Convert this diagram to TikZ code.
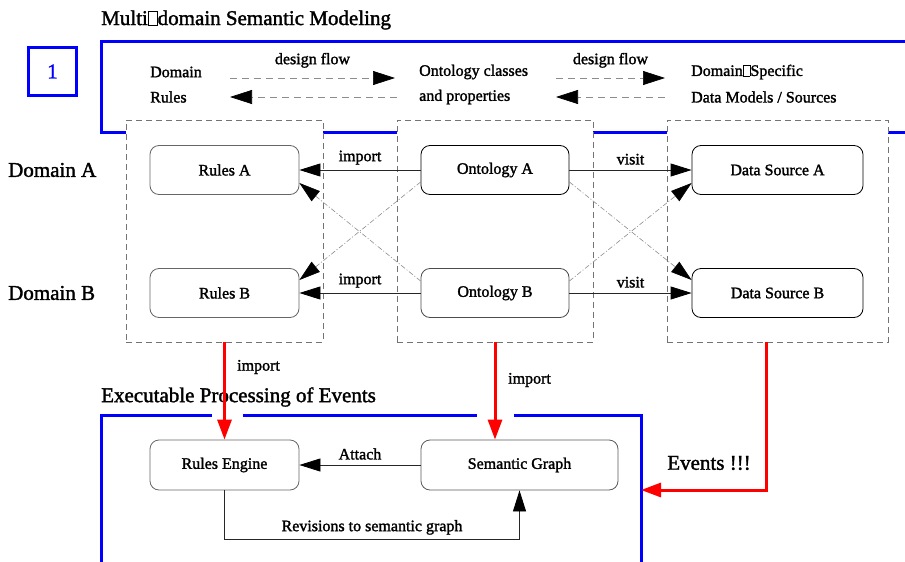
\documentclass[tikz,border=0pt]{standalone}
\usepackage{fontspec}
\setmainfont{Liberation Serif}[FakeBold=1.6]
\usetikzlibrary{arrows.meta}

% empty box where a glyph is missing
\newcommand\nogl{{\fboxsep=0pt\fboxrule=0.5pt\fbox{\rule{0pt}{0.66em}\hspace{0.42em}}}}

\begin{document}
\begin{tikzpicture}[x=1pt,y=-1pt,
  every node/.style={inner sep=0pt,font=\fontsize{16}{18}\selectfont},
  big/.style={font=\fontsize{21}{24}\selectfont},
  blk/.style={draw,line width=0.8pt,rounded corners=9pt,minimum height=49pt},
  grp/.style={draw=black!55,line width=0.7pt,dash pattern=on 6pt off 4pt,fill=white},
  frm/.style={draw=blue,line width=3pt},
  lnk/.style={draw=black!85,line width=0.8pt,-{Triangle[length=21pt,width=13pt,color=black]}},
  xlnk/.style={draw=black!45,line width=0.6pt,dash pattern=on 5pt off 2pt on 1pt off 2pt,
    -{Triangle[length=21pt,width=13pt,color=black]}},
  flw/.style={draw=black!45,line width=0.7pt,dash pattern=on 7pt off 5pt,
    -{Triangle[length=22pt,width=14pt,color=black]}},
  imp/.style={draw=red,line width=3pt,-{Triangle[length=20pt,width=14pt]}}]

\useasboundingbox (0,0) rectangle (905,562);

% upper frame
\node[big,anchor=west] (ttl1) at (101,20) {Multi\nogl domain Semantic Modeling};
\node[frm,minimum size=48pt,text=blue,big] (num) at (52.5,71.5) {1};
\draw[frm] (905,41) -- (101,41) -- (101,132) -- (905,132);

\node[grp,minimum width=197pt,minimum height=222pt] (gR) at (224.5,231) {};
\node[grp,minimum width=196pt,minimum height=222pt] (gO) at (495,231) {};
\node[grp,minimum width=221pt,minimum height=222pt] (gD) at (777.5,231) {};

\node[anchor=west] (dom) at (150,72) {Domain};
\node[anchor=west] (rul) at (150,97) {Rules};
\node[anchor=west] (ont) at (419,72) {Ontology classes};
\node[anchor=west] (prop) at (419,97) {and properties};
\node[anchor=west] (dss) at (691,72) {Domain\nogl Specific};
\node[anchor=west] (dms) at (691,97) {Data Models / Sources};

\coordinate (f1) at (230,78);
\coordinate (f2) at (395,78);
\coordinate (f3) at (230,97);
\coordinate (f4) at (397,97);
\coordinate (f5) at (556,78);
\coordinate (f6) at (665,78);
\coordinate (f7) at (556,97);
\coordinate (f8) at (665,97);
\draw[flw] (f1) -- node[above=10pt]{design flow} (f2);
\draw[flw] (f4) -- (f3);
\draw[flw] (f5) -- node[above=10pt]{design flow} (f6);
\draw[flw] (f8) -- (f7);

% domains
\node[big,anchor=west] (domA) at (8,170) {Domain A};
\node[big,anchor=west] (domB) at (8,293) {Domain B};

\node[blk,draw=black!60,minimum width=149pt] (ruleA) at (224.5,170) {Rules A};
\node[blk,draw=black!60,minimum width=149pt] (ruleB) at (224.5,293) {Rules B};
\node[blk,minimum width=148pt] (ontA) at (495,170) {Ontology A};
\node[blk,draw=black!70,minimum width=148pt] (ontB) at (495,293) {Ontology B};
\node[blk,minimum width=171pt] (dsA) at (777.5,170) {Data Source A};
\node[blk,minimum width=171pt] (dsB) at (777.5,293) {Data Source B};

\draw[lnk] (ontA) -- node[above=5pt]{import} (ruleA);
\draw[lnk] (ontB) -- node[above=5pt]{import} (ruleB);
\draw[lnk] (ontA) -- node[above=5pt]{visit} (dsA);
\draw[lnk] (ontB) -- node[above=5pt]{visit} (dsB);

\draw[xlnk] ([yshift=-12pt]ontA.west) -- ([yshift=13pt]ruleB.east);
\draw[xlnk] ([yshift=12pt]ontB.west) -- ([yshift=-13pt]ruleA.east);
\draw[xlnk] ([yshift=-12pt]ontA.east) -- ([yshift=13pt]dsB.west);
\draw[xlnk] ([yshift=12pt]ontB.east) -- ([yshift=-13pt]dsA.west);

% lower frame
\node[big,anchor=west] (ttl2) at (101,397) {Executable Processing of Events};
\draw[frm] (212,415) -- (101,415) -- (101,562);
\draw[frm] (243,415) -- (477,415);
\draw[frm] (514,415) -- (641,415) -- (641,562);

\node[blk,draw=black!60,minimum width=149pt,minimum height=50pt] (eng) at (224.5,465) {Rules Engine};
\node[blk,draw=black!65,minimum width=197pt,minimum height=50pt] (sem) at (519.5,465) {Semantic Graph};

\draw[lnk] (sem) -- node[above=5pt]{Attach} (eng);
\coordinate (rv) at (0,539);
\draw[lnk] (eng.south) -- (eng.south |- rv) -| node[pos=0.25,above=4pt]{Revisions to semantic graph} (sem.south);

% imports and events
\draw[imp] (gR.south) -- (eng.north);
\node[anchor=west] (im1) at (237,367) {import};
\draw[imp] (gO.south) -- (gO.south |- sem.north);
\node[anchor=west] (im2) at (508,380) {import};

\coordinate (evt) at (641,490);
\draw[imp] ([xshift=-11.5pt]gD.south) |- (evt);
\node[big] (evl) at (709,463) {Events !!!};

\end{tikzpicture}
\end{document}
